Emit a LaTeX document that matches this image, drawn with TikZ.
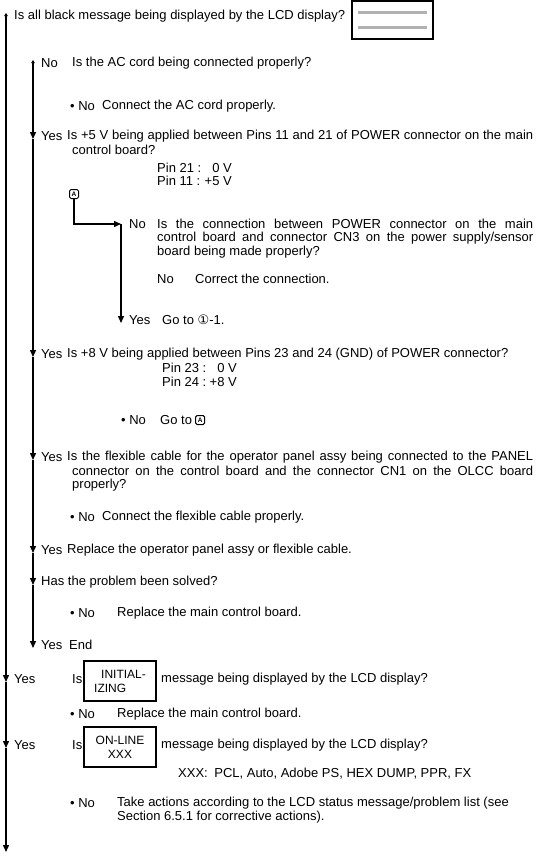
\documentclass[tikz,border=0pt]{standalone}
\usepackage{fontspec}
\setmainfont{Liberation Sans}
\newfontfamily\dejavu{DejaVu Sans}
\usetikzlibrary{arrows.meta}
\begin{document}
\begin{tikzpicture}[x=1pt,y=-1pt,
  txt/.style={anchor=west,inner sep=0pt,font=\fontsize{13}{14}\selectfont},
  flow/.style={line width=1.3pt},
  dn/.style={-{Triangle[width=6pt,length=7pt]}},
  rt/.style={-{Triangle[width=6pt,length=7pt]}},
  upstart/.style={{Triangle[width=3.5pt,length=3pt]}-},
  msgbox/.style={draw,line width=1.2pt,minimum width=72pt,minimum height=40pt,inner sep=1pt,align=left,font=\fontsize{12}{14}\selectfont},
  amark/.style={draw,rounded corners=1.5pt,line width=1pt,inner sep=0.8pt,minimum size=9pt,font=\fontsize{6.5}{6.5}\selectfont\bfseries}
]
\useasboundingbox (0,0) rectangle (537,857);

% top LCD box
\node[draw,line width=1.2pt,minimum width=81pt,minimum height=38pt,inner sep=0pt] (lcd) at (392.5,20) {};
\fill[gray!60] (358,10.5) rectangle (427,14);
\fill[gray!60] (358,25.5) rectangle (427,29);

% main line
\coordinate (m0) at (6,13);
\coordinate (m1) at (6,682);
\coordinate (m2) at (6,748);
\coordinate (m3) at (6,852);
\draw[flow,upstart] (m0) -- (6,30);
\draw[flow,dn] (6,30) -- (m1);
\draw[flow,dn] (m1) -- (m2);
\draw[flow,dn] (m2) -- (m3);

% second line
\coordinate (s0) at (33,60);
\coordinate (s1) at (33,139);
\coordinate (s2) at (33,357);
\coordinate (s3) at (33,460);
\coordinate (s4) at (33,553);
\coordinate (s5) at (33,585);
\coordinate (s6) at (33,648);
\draw[flow,upstart] (s0) -- (33,75);
\draw[flow,dn] (33,75) -- (s1);
\draw[flow,dn] (s1) -- (s2);
\draw[flow,dn] (s2) -- (s3);
\draw[flow,dn] (s3) -- (s4);
\draw[flow,dn] (s4) -- (s5);
\draw[flow,dn] (s5) -- (s6);

% branch A
\node[amark] (A) at (74,194) {A};
\coordinate (bj) at (121,224);
\coordinate (b2) at (121,323);
\draw[flow,rt] (A.south) |- (bj);
\draw[flow,dn] (bj) -- (b2);

% texts
\node[txt] (t0) at (14,16) {Is all black message being displayed by the LCD display?};
\node[txt] (n1) at (41,63) {No};
\node[txt] (q1) at (72,63) {Is the AC cord being connected properly?};
\node[txt] (n1b) at (70,106) {• No};
\node[txt] (a1) at (102,106) {Connect the AC cord properly.};

\node[txt] (y2) at (41,136) {Yes};
\node[txt] (q2a) at (67,136) {\makebox[466pt][s]{Is +5 V being applied between Pins 11 and 21 of POWER connector on the main}};
\node[txt] (q2b) at (72,150) {control board?};
\node[txt] (p21) at (157,168) {Pin 21 :};
\node[txt,anchor=east] (v21) at (232,168) {0 V};
\node[txt] (p11) at (157,181) {Pin 11 :};
\node[txt,anchor=east] (v11) at (232,181) {+5 V};

\node[txt] (n3) at (129,224) {No};
\node[txt] (q3a) at (157,224) {\makebox[376pt][s]{Is the connection between POWER connector on the main}};
\node[txt] (q3b) at (157,238) {\makebox[376pt][s]{control board and connector CN3 on the power supply/sensor}};
\node[txt] (q3c) at (157,252) {board being made properly?};
\node[txt] (n3b) at (157,279) {No};
\node[txt] (a3) at (195,279) {Correct the connection.};
\node[txt] (y3) at (129,320) {Yes};
\node[txt] (g3) at (162,320) {Go to {\dejavu ①}-1.};

\node[txt] (y4) at (41,354) {Yes};
\node[txt] (q4) at (67,354) {Is +8 V being applied between Pins 23 and 24 (GND) of POWER connector?};
\node[txt] (p23) at (162,368) {Pin 23 :};
\node[txt,anchor=east] (v23) at (237,368) {0 V};
\node[txt] (p24) at (162,382) {Pin 24 :};
\node[txt,anchor=east] (v24) at (237,382) {+8 V};
\node[txt] (n4) at (121,420) {• No};
\node[txt] (g4) at (160,420) {Go to};
\node[amark,anchor=west] (A2) at (g4.east) [xshift=3pt] {A};

\node[txt] (y5) at (41,457) {Yes};
\node[txt] (q5a) at (67,457) {\makebox[466pt][s]{Is the flexible cable for the operator panel assy being connected to the PANEL}};
\node[txt] (q5b) at (72,471) {\makebox[461pt][s]{connector on the control board and the connector CN1 on the OLCC board}};
\node[txt] (q5c) at (72,485) {properly?};
\node[txt] (n5) at (70,517) {• No};
\node[txt] (a5) at (102,517) {Connect the flexible cable properly.};

\node[txt] (y6) at (41,550) {Yes};
\node[txt] (a6) at (67,550) {Replace the operator panel assy or flexible cable.};
\node[txt] (q7) at (41,582) {Has the problem been solved?};
\node[txt] (n7) at (70,613) {• No};
\node[txt] (a7) at (117,613) {Replace the main control board.};
\node[txt] (y8) at (41,645) {Yes};
\node[txt] (a8) at (69,645) {End};

\node[txt] (y9) at (14,679) {Yes};
\node[txt] (is9) at (72,679) {Is};
\node[msgbox] (b9) at (120,681) {\hspace*{7pt}INITIAL-\\IZING};
\node[txt] (q9) at (161,679) {message being displayed by the LCD display?};
\node[txt] (n9) at (70,714) {• No};
\node[txt] (a9) at (117,714) {Replace the main control board.};

\node[txt] (y10) at (14,745) {Yes};
\node[txt] (is10) at (72,745) {Is};
\node[msgbox,align=center] (b10) at (120,747) {ON-LINE\\XXX};
\node[txt] (q10) at (161,745) {message being displayed by the LCD display?};
\node[txt] (x10) at (178,774) {XXX:\enspace PCL, Auto, Adobe PS, HEX DUMP, PPR, FX};
\node[txt] (n10) at (70,803) {• No};
\node[txt] (a10a) at (117,803) {Take actions according to the LCD status message/problem list (see};
\node[txt] (a10b) at (117,817) {Section 6.5.1 for corrective actions).};
\end{tikzpicture}
\end{document}
